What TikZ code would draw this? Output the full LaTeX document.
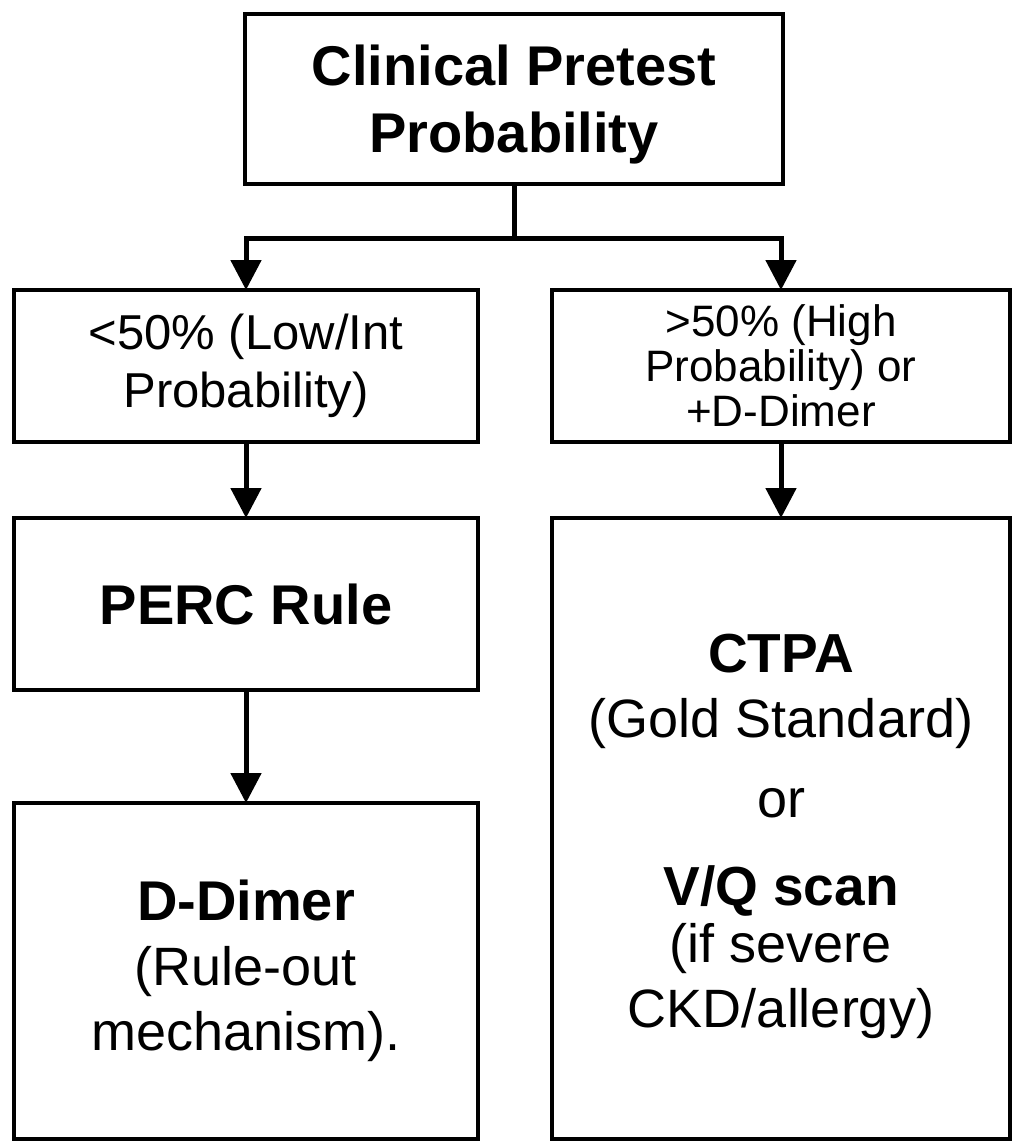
\documentclass[tikz,border=0pt]{standalone}
\usepackage{fontspec}
\setmainfont{Liberation Sans}
\usetikzlibrary{arrows.meta}

\begin{document}
\begin{tikzpicture}[x=1pt,y=-1pt,
	probbox/.style={draw,line width=4pt,inner sep=0pt,outer sep=0pt,align=center},
	flowarrow/.style={line width=5pt,-{Triangle[width=30pt,length=30pt]}}]
	\useasboundingbox (0,0) rectangle (1012,1142);
	\node[probbox,minimum width=538pt,minimum height=170pt,font=\fontsize{56}{67}\selectfont\bfseries] (pretest) at (514,99) {\rule{0pt}{51pt}Clinical Pretest\\Probability};
	\node[probbox,minimum width=464pt,minimum height=152pt,font=\fontsize{49}{58}\selectfont] (low) at (246,366) {<50\% (Low/Int\\Probability)};
	\node[probbox,minimum width=458pt,minimum height=152pt,font=\fontsize{44}{45}\selectfont] (high) at (781,366) {>50\% (High\\Probability) or\\+D-Dimer};
	\node[probbox,minimum width=464pt,minimum height=172pt,font=\fontsize{56}{67}\selectfont\bfseries] (perc) at (246,604) {PERC Rule};
	\node[probbox,minimum width=464pt,minimum height=336pt,font=\fontsize{54}{65}\selectfont] (ddimer) at (246,971) {{\bfseries\fontsize{56}{65}\selectfont D-Dimer}\\(Rule-out\\mechanism).};
	\node[probbox,minimum width=458pt,minimum height=621pt,font=\fontsize{54}{65}\selectfont] (ctpa) at (781,828.5) {\rule{0pt}{54pt}{\bfseries\fontsize{55}{65}\selectfont CTPA}\\(Gold Standard)\\[15pt]or\\[23pt]{\bfseries\fontsize{55}{65}\selectfont V/Q scan}\\[-8pt](if severe\\CKD/allergy)};
	% branch from the pretest box
	\coordinate (split) at (514,238);
	\draw[line width=5pt] (pretest.south) -- (split);
	\draw[flowarrow] (split) -| (low.north);
	\draw[flowarrow] (split) -| (high.north);
	\draw[flowarrow] (low) -- (perc);
	\draw[flowarrow] (perc) -- (ddimer);
	\draw[flowarrow] (high) -- (ctpa);
\end{tikzpicture}
\end{document}
